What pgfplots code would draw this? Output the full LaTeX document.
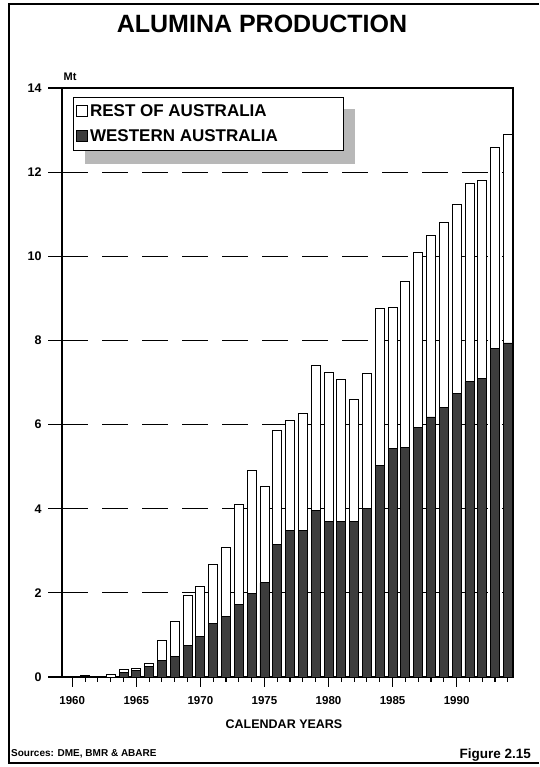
\documentclass[border=0pt]{standalone}
\usepackage{fontspec}
\setmainfont{Liberation Sans}
\usepackage{pgfplots}
\pgfplotsset{compat=1.18}
\usepackage{pgfplotstable}

% alumina production, Mt
\pgfplotstableread{
year wa   rest
1960 0.02 0.00
1961 0.02 0.01
1962 0.00 0.01
1963 0.00 0.07
1964 0.11 0.06
1965 0.15 0.05
1966 0.26 0.06
1967 0.40 0.46
1968 0.49 0.82
1969 0.75 1.18
1970 0.96 1.19
1971 1.27 1.41
1972 1.43 1.66
1973 1.73 2.37
1974 1.98 2.93
1975 2.24 2.29
1976 3.15 2.72
1977 3.49 2.60
1978 3.49 2.78
1979 3.96 3.44
1980 3.69 3.55
1981 3.69 3.38
1982 3.69 2.92
1983 4.00 3.22
1984 5.03 3.74
1985 5.43 3.35
1986 5.45 3.96
1987 5.94 4.16
1988 6.18 4.32
1989 6.40 4.40
1990 6.75 4.49
1991 7.02 4.71
1992 7.09 4.71
1993 7.80 4.78
1994 7.94 4.96
}\alumina

\begin{document}
\begin{tikzpicture}[x=1pt,y=1pt]
\useasboundingbox (0,0) rectangle (539,767);
\draw[line width=1.4pt] (539,763) -- (9,763) -- (9,4) -- (539,4);
\node[font=\fontsize{25}{30}\selectfont\bfseries] at (262,743) {ALUMINA PRODUCTION};
% legend shadow
\fill[black!28] (85,603) rectangle (355,658);

\begin{axis}[
    at={(62pt,90pt)}, anchor=south west,
    scale only axis, width=451pt, height=589pt,
    clip=false,
    ybar stacked, bar width=9pt,
    xmin=1959.2, xmax=1994.4,
    ymin=0, ymax=14,
    enlargelimits=false,
    axis line style={line width=1.1pt},
    tick pos=left, tick align=outside,
    major tick length=9pt, minor tick length=5pt,
    xtick={1960,1965,...,1990},
    minor xtick={1960,...,1994},
    ytick={0,2,...,14},
    tick style={line width=1.1pt, draw=black},
    /pgf/number format/1000 sep={},
    /pgf/number format/assume math mode=true,
    xticklabel style={font=\fontsize{11.5}{13}\selectfont\bfseries, yshift=-7pt},
    yticklabel style={font=\fontsize{12.5}{14}\selectfont\bfseries, xshift=-8pt},
    ymajorgrids,
    grid style={draw=black, line width=0.9pt, dash pattern=on 26pt off 14pt},
    legend style={at={(0.024,0.985)}, anchor=north west,
        draw=black, line width=0.9pt, fill=white,
        font=\fontsize{17}{20}\selectfont\bfseries,
        inner xsep=3pt, inner ysep=5pt, row sep=8pt},
    legend cell align=left,
    reverse legend,
    legend image code/.code={\draw[#1,line width=0.8pt] (0pt,-5pt) rectangle (11pt,6pt);},
]
\addplot[fill=black!76, draw=black, line width=0.8pt] table[x=year, y=wa] {\alumina};
\addlegendentry{WESTERN AUSTRALIA\hspace*{60pt}}
\addplot[fill=white, draw=black, line width=0.8pt] table[x=year, y=rest] {\alumina};
\addlegendentry{REST OF AUSTRALIA}
\pgfplotsinvokeforeach{0,2,...,14}{
  \draw[line width=1.1pt] (axis cs:1959.2,#1) -- ++(-14pt,0pt);
}
\pgfplotsinvokeforeach{1960,1965,...,1990}{
  \draw[line width=1.2pt] (axis cs:#1,0) -- ++(0pt,-10pt);
}
\pgfplotsinvokeforeach{1960,...,1994}{
  \draw[line width=1.1pt] (axis cs:#1,0) -- ++(0pt,-5pt);
}
\end{axis}

\node[font=\fontsize{11}{13}\selectfont\bfseries] at (70,690) {Mt};
\node[font=\fontsize{12.5}{14}\selectfont\bfseries] at (284,43) {CALENDAR YEARS};
\node[font=\fontsize{10}{12}\selectfont\bfseries, anchor=west, inner sep=0pt] at (11,13) {Sources: DME, BMR \& ABARE};
\node[font=\fontsize{13.5}{15}\selectfont\bfseries, anchor=east, inner sep=0pt] at (531,12) {Figure 2.15};
\end{tikzpicture}
\end{document}
